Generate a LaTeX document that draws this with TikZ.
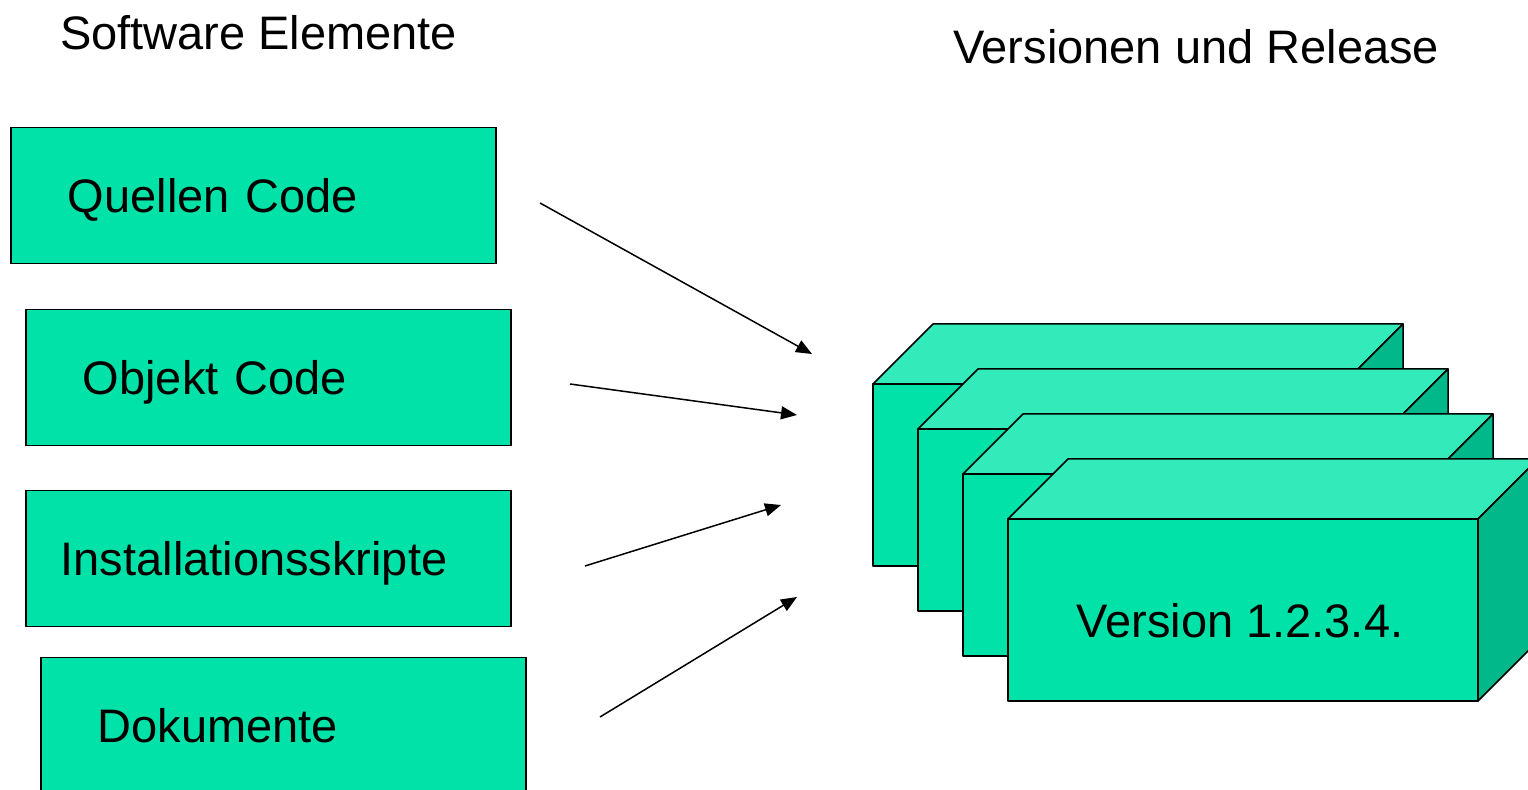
\documentclass[tikz,border=0pt]{standalone}
\usepackage{fontspec}
\setmainfont{Liberation Sans}
\usetikzlibrary{arrows.meta}

\definecolor{boxgreen}{RGB}{0,226,168}
\definecolor{topgreen}{RGB}{51,234,186}
\definecolor{sidegreen}{RGB}{0,184,138}

\tikzset{
  txt/.style={font=\fontsize{23.5}{28}\selectfont},
  elem/.style={txt, draw=black, line width=0.75pt, fill=boxgreen, anchor=north west,
    minimum height=68pt, inner xsep=28.5pt, text width=185.5pt, align=left, text depth=0pt},
  pfeil/.style={line width=0.75pt, -{Triangle[length=8pt,width=6.5pt]}},
}

\begin{document}
\begin{tikzpicture}[x=0.5pt, y=-0.5pt]
\useasboundingbox (0,0) rectangle (1528,790);
\clip (0,0) rectangle (1528,790);

% titles
\node[txt, anchor=west] (titelsw) at (53,33) {Software Elemente};
\node[txt, anchor=west] (titelver) at (946,47) {Versionen und Release};

% software elements
\node[elem] (quellen) at (10,127) {Quellen Code};
\node[elem] (objekt) at (25,309) {Objekt Code};
\node[elem, inner xsep=17.5pt, text width=207.5pt] (install) at (25,490) {Installationsskripte};
\node[elem] (doku) at (40,657) {Dokumente};

% stacked version boxes
\foreach \i in {0,...,3} {
  \begin{scope}[shift={(45*\i,45*\i)}, line width=0.75pt, line join=round]
    \filldraw[fill=topgreen] (873,384) -- (933,324) -- (1403,324) -- (1343,384) -- cycle;
    \filldraw[fill=sidegreen] (1343,384) -- (1403,324) -- (1403,506) -- (1343,566) -- cycle;
    \filldraw[fill=boxgreen] (873,384) rectangle (1343,566);
  \end{scope}
}
\node[txt] (version) at (1240,621) {Version 1.2.3.4.};

% arrows
\coordinate (s1) at (540,203);
\coordinate (e1) at (812,354);
\coordinate (s2) at (570,384);
\coordinate (e2) at (797,415);
\coordinate (s3) at (585,566);
\coordinate (e3) at (781,505);
\coordinate (s4) at (600,717);
\coordinate (e4) at (797,597);
\foreach \k in {1,...,4}
  \draw[pfeil] (s\k) -- (e\k);
\end{tikzpicture}
\end{document}
